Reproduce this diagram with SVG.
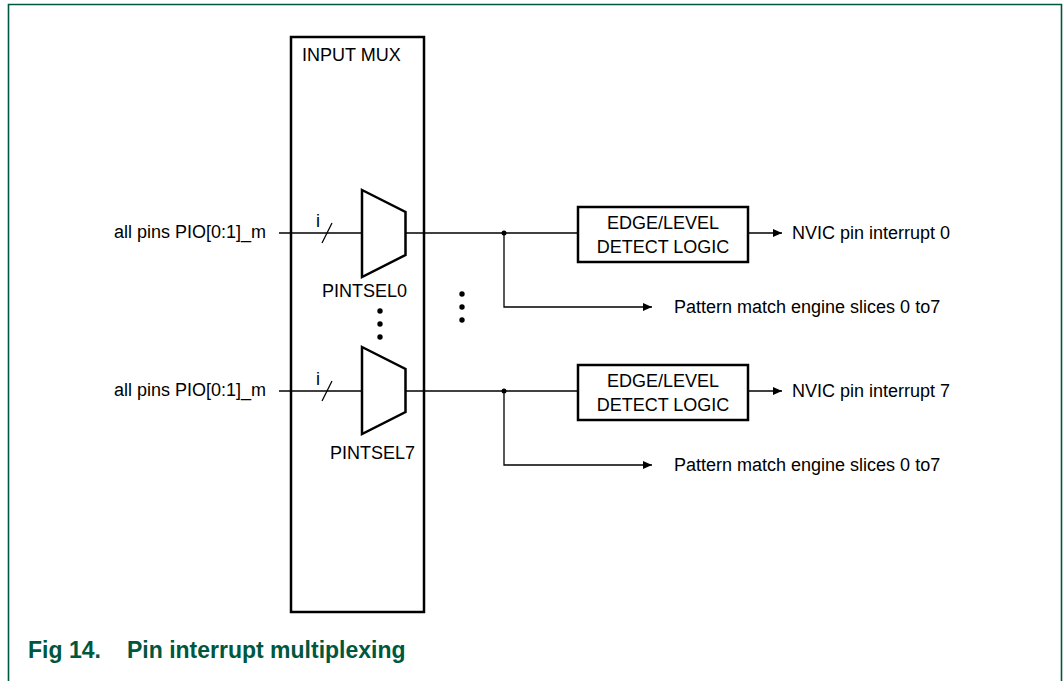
<svg xmlns="http://www.w3.org/2000/svg" width="1063" height="681" viewBox="0 0 1063 681">
<defs>
<marker id="arr" markerWidth="10" markerHeight="8" refX="9" refY="4" orient="auto" markerUnits="userSpaceOnUse">
<path d="M0,0 L9,4 L0,8 Z" fill="#000"/>
</marker>
<style>
.t{font-family:"Liberation Sans",Arial,sans-serif;font-size:18px;fill:#000}
.c{fill:none;stroke:#000;stroke-width:1.3}
.b{fill:#fff;stroke:#000;stroke-width:2.5}
.d{fill:#000}
.cap{font-family:"Liberation Sans",Arial,sans-serif;font-size:23px;font-weight:bold;fill:#00573f}
</style>
</defs>
<rect width="1063" height="681" fill="#fff"/>
<path d="M8.5,681 V4.5 H1061.5 V681" fill="none" stroke="#00573f" stroke-width="1.6"/>

<g id="connectors">
<line class="c" x1="279" y1="233" x2="362" y2="233"/>
<line class="c" x1="322" y1="243" x2="332" y2="223"/>
<line class="c" x1="405" y1="233" x2="578" y2="233"/>
<path class="c" d="M504,233 V307 H652" marker-end="url(#arr)"/>
<line class="c" x1="748" y1="233" x2="782" y2="233" marker-end="url(#arr)"/>
<circle class="d" cx="504" cy="233" r="2.5"/>

<line class="c" x1="279" y1="391" x2="362" y2="391"/>
<line class="c" x1="322" y1="401" x2="332" y2="381"/>
<line class="c" x1="405" y1="391" x2="578" y2="391"/>
<path class="c" d="M504,391 V465 H652" marker-end="url(#arr)"/>
<line class="c" x1="748" y1="391" x2="782" y2="391" marker-end="url(#arr)"/>
<circle class="d" cx="504" cy="391" r="2.5"/>
</g>

<g id="input-mux">
<rect class="b" x="291" y="37" width="133" height="575" style="fill:none"/>
<text class="t" x="302" y="61">INPUT MUX</text>
</g>

<g id="pintsel0">
<polygon class="b" points="362,190 405.5,212 405.5,255 362,277"/>
<text class="t" x="322" y="297">PINTSEL0</text>
</g>

<g id="pintsel7">
<polygon class="b" points="362,347 405.5,369 405.5,412 362,434"/>
<text class="t" x="330" y="459">PINTSEL7</text>
</g>

<g id="mux-dots">
<circle class="d" cx="380" cy="311" r="2.7"/>
<circle class="d" cx="380" cy="324" r="2.7"/>
<circle class="d" cx="380" cy="337" r="2.7"/>
</g>

<g id="mid-dots">
<circle class="d" cx="462" cy="294" r="2.7"/>
<circle class="d" cx="462" cy="307" r="2.7"/>
<circle class="d" cx="462" cy="320" r="2.7"/>
</g>

<g id="input0">
<text class="t" x="266" y="238" text-anchor="end">all pins PIO[0:1]_m</text>
<text class="t" x="316" y="227">i</text>
</g>

<g id="input7">
<text class="t" x="266" y="396" text-anchor="end">all pins PIO[0:1]_m</text>
<text class="t" x="316" y="385">i</text>
</g>

<g id="edge0">
<rect class="b" x="578" y="207" width="170" height="55"/>
<text class="t" x="663" y="229" text-anchor="middle">EDGE/LEVEL</text>
<text class="t" x="663" y="253" text-anchor="middle">DETECT LOGIC</text>
</g>

<g id="edge7">
<rect class="b" x="578" y="365" width="170" height="55"/>
<text class="t" x="663" y="387" text-anchor="middle">EDGE/LEVEL</text>
<text class="t" x="663" y="411" text-anchor="middle">DETECT LOGIC</text>
</g>

<g id="out0">
<text class="t" x="792" y="239">NVIC pin interrupt 0</text>
<text class="t" x="674" y="313">Pattern match engine slices 0 to7</text>
</g>

<g id="out7">
<text class="t" x="792" y="397">NVIC pin interrupt 7</text>
<text class="t" x="674" y="471">Pattern match engine slices 0 to7</text>
</g>

<g id="caption">
<text class="cap" x="28" y="658">Fig 14.</text>
<text class="cap" x="127" y="658">Pin interrupt multiplexing</text>
</g>
</svg>
